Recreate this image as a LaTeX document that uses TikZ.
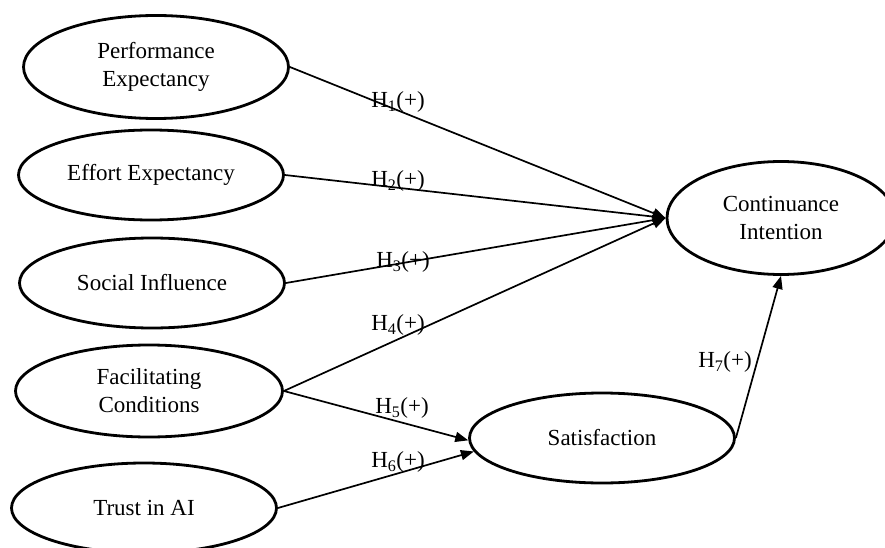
\documentclass[tikz,border=0pt]{standalone}
\usepackage{fontspec}
\setmainfont{Liberation Serif}
\usetikzlibrary{shapes.geometric,arrows.meta}
\begin{document}
\begin{tikzpicture}[x=1pt,y=-1pt,
  construct/.style={ellipse,draw,line width=2.8pt,inner sep=0pt,align=center,
    font=\fontsize{23}{28}\selectfont},
  link/.style={line width=1.7pt,-{Triangle[length=13pt,width=10pt]}},
  hyp/.style={font=\fontsize{23}{28}\selectfont,inner sep=0pt}]
\useasboundingbox (0,0) rectangle (885,548);
\node[construct,minimum width=265pt,minimum height=103pt] (perf) at (156,67) {Performance\\Expectancy};
\node[construct,minimum width=265pt,minimum height=90pt] (eff) at (151,175) {Effort Expectancy};
\node[construct,minimum width=265pt,minimum height=90pt] (soc) at (152,283) {Social Influence};
\node[construct,minimum width=267pt,minimum height=92pt] (fac) at (149,391) {Facilitating\\Conditions};
\node[construct,minimum width=265pt,minimum height=90pt] (trust) at (144,508) {Trust in AI};
\node[construct,minimum width=265pt,minimum height=90pt] (sat) at (602,438) {Satisfaction};
\node[construct,minimum width=228pt,minimum height=113pt] (cont) at (781,218) {Continuance\\Intention};
\draw[link] (perf.east) -- (cont.west);
\draw[link] (eff.east) -- (cont.west);
\draw[link] (soc.east) -- (cont.west);
\draw[link] (fac.east) -- (cont.west);
\draw[link] (fac.east) -- (sat.181);
\draw[link] (trust.east) -- (sat.186);
\draw[link] (sat.east) -- (cont.south);
\node[hyp] (h1) at (398,102) {H\textsubscript{1}(+)};
\node[hyp] (h2) at (398,181) {H\textsubscript{2}(+)};
\node[hyp] (h3) at (403,262) {H\textsubscript{3}(+)};
\node[hyp] (h4) at (398,325) {H\textsubscript{4}(+)};
\node[hyp] (h5) at (402,408) {H\textsubscript{5}(+)};
\node[hyp] (h6) at (398,462) {H\textsubscript{6}(+)};
\node[hyp] (h7) at (725,362) {H\textsubscript{7}(+)};
\end{tikzpicture}
\end{document}
